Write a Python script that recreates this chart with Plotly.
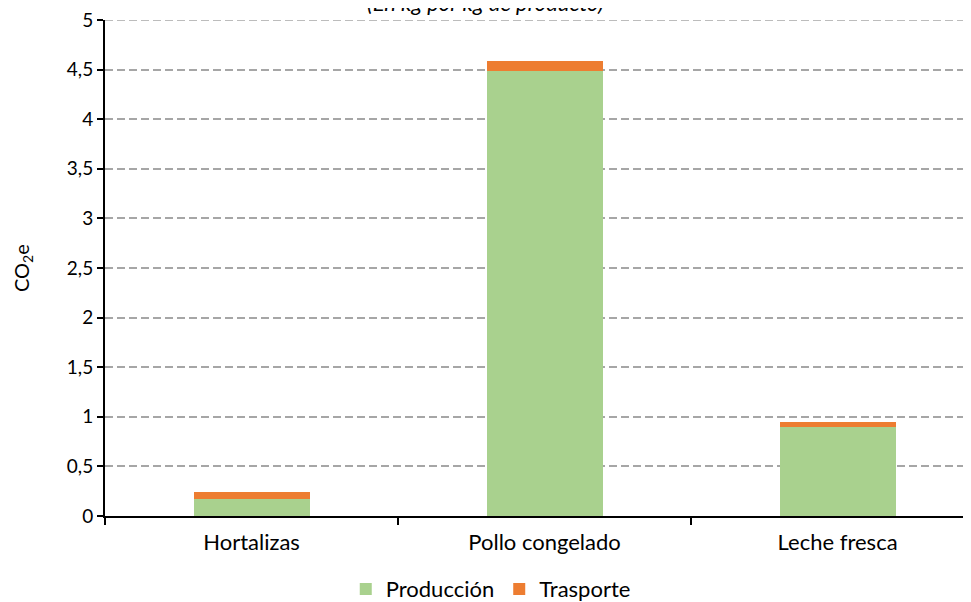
import plotly.graph_objects as go

categories = ["Hortalizas", "Pollo congelado", "Leche fresca"]
produccion = [0.17, 4.49, 0.90]
trasporte = [0.075, 0.10, 0.05]
y_ticks = [0, 0.5, 1, 1.5, 2, 2.5, 3, 3.5, 4, 4.5, 5]
y_tick_labels = ["0", "0,5", "1", "1,5", "2", "2,5", "3", "3,5", "4", "4,5", "5"]

FONT = "Lato, 'Open Sans', sans-serif"

fig = go.Figure()
fig.add_trace(go.Bar(x=categories, y=produccion, name="Producción",
                     marker=dict(color="#a9d18e", line=dict(width=0))))
fig.add_trace(go.Bar(x=categories, y=trasporte, name="Trasporte",
                     marker=dict(color="#ed7d31", line=dict(width=0))))

fig.update_layout(
    barmode="stack",
    bargap=0.604,
    width=963, height=594,
    plot_bgcolor="white", paper_bgcolor="white",
    margin=dict(l=97, r=3, t=12, b=86, autoexpand=False),
    font=dict(family=FONT, size=19, color="#000000"),
    legend=dict(orientation="h", x=0.447, xanchor="center", y=-0.105, yanchor="top",
                font=dict(size=22), traceorder="normal", itemsizing="constant"),
    annotations=[
        dict(text="<i>(En kg por kg de producto)</i>", xref="paper", yref="paper",
             x=0.441, y=1, xanchor="center", yanchor="bottom", yshift=2,
             showarrow=False, font=dict(size=22, family=FONT)),
        dict(text="CO<sub>2</sub>e", xref="paper", yref="paper", x=0, y=0.5,
             xanchor="center", yanchor="middle", xshift=-83, textangle=-90,
             showarrow=False, font=dict(size=20, family=FONT)),
    ],
    shapes=[dict(type="line", xref="paper", yref="y", x0=0, x1=1, y0=y_ticks[-1], y1=y_ticks[-1],
                 line=dict(color="#a6a6a6", width=1.5, dash="8px,4px"), layer="below")],
)
fig.update_xaxes(range=[-0.5, 2.445],
                 showline=True, linecolor="#000000", linewidth=2,
                 ticks="outside", tickson="boundaries", ticklen=7, tickwidth=2,
                 tickcolor="#000000", tickfont=dict(size=22), showgrid=False,
                 ticklabelstandoff=6)
fig.update_yaxes(range=[0, 5], tickvals=y_ticks, ticktext=y_tick_labels,
                 showline=True, linecolor="#000000", linewidth=2,
                 ticks="outside", ticklen=6, tickwidth=2, tickcolor="#000000",
                 showgrid=True, gridcolor="#a6a6a6", griddash="8px,4px", gridwidth=1.5,
                 zeroline=False, tickfont=dict(size=19), ticklabeloverflow="allow")

fig.write_html("out.html")
